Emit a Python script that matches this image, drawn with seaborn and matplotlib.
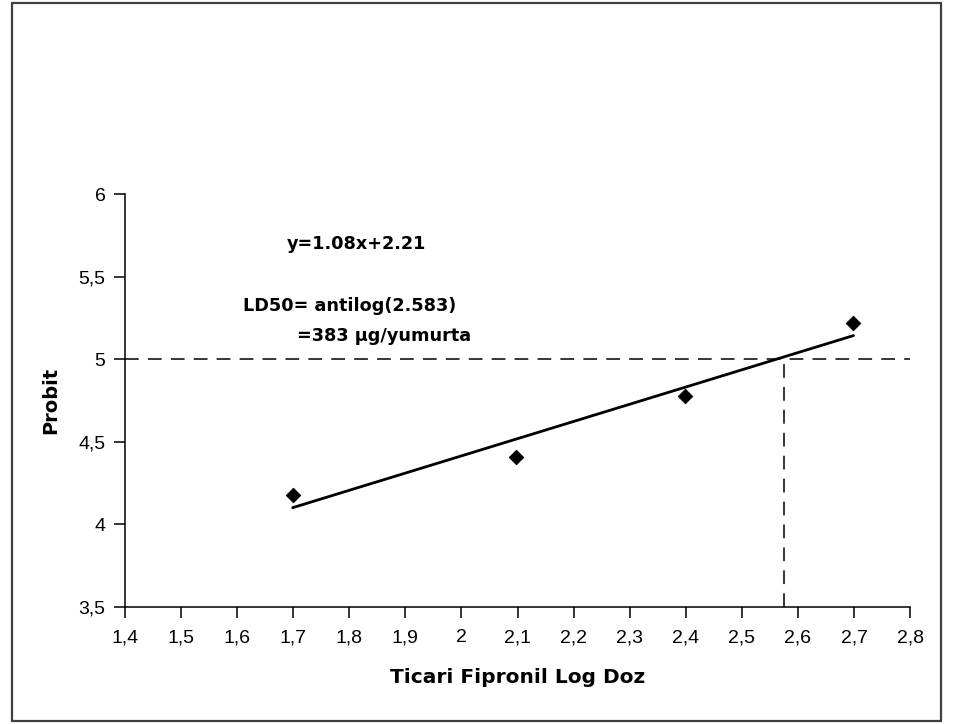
import matplotlib
matplotlib.use("Agg")
import matplotlib.pyplot as plt
import matplotlib.patches as mpatches
import matplotlib.ticker as mticker
import pandas as pd
import seaborn as sns

# data
log_dose = [1.699, 2.097, 2.398, 2.699]
probit = [4.18, 4.41, 4.78, 5.22]
ld50_log = 2.575
probit_50 = 5.0
x_ticks = [1.4, 1.5, 1.6, 1.7, 1.8, 1.9, 2.0, 2.1, 2.2, 2.3, 2.4, 2.5, 2.6, 2.7, 2.8]
y_ticks = [3.5, 4.0, 4.5, 5.0, 5.5, 6.0]

df = pd.DataFrame({"x": log_dose, "y": probit})

sns.set_theme(style="white")
plt.rcParams["font.family"] = ["Liberation Sans", "DejaVu Sans"]
plt.rcParams["text.color"] = "black"
plt.rcParams["axes.labelcolor"] = "black"
BOLD = ["DejaVu Sans"]

fig = plt.figure(figsize=(9.57, 7.24), dpi=100)
ax = fig.add_axes([0.1306, 0.1616, 0.951 - 0.1306, 0.732 - 0.1616])

# reference lines (Probit 5 and LD50)
ax.plot([x_ticks[0], x_ticks[-1]], [probit_50, probit_50], color="black",
        lw=1.1, dashes=(9, 6))
ax.plot([ld50_log, ld50_log], [y_ticks[0], probit_50], color="black",
        lw=1.1, dashes=(9, 6))

sns.regplot(data=df, x="x", y="y", ci=None, scatter=False, ax=ax,
            line_kws={"color": "black", "lw": 2})
sns.scatterplot(data=df, x="x", y="y", marker="D", s=55, color="black",
                edgecolor="black", ax=ax, zorder=5)

ax.set_xlim(x_ticks[0], x_ticks[-1])
ax.set_ylim(y_ticks[0], y_ticks[-1])
ax.set_xticks(x_ticks)
ax.set_yticks(y_ticks)
fmt = mticker.FuncFormatter(lambda v, p: f"{v:g}".replace(".", ","))
ax.xaxis.set_major_formatter(fmt)
ax.yaxis.set_major_formatter(fmt)
ax.tick_params(axis="both", direction="out", length=8, width=1.1,
               labelsize=14, colors="black", bottom=True, left=True)
ax.tick_params(axis="x", pad=8)
ax.tick_params(axis="y", pad=6)

for side in ["top", "right"]:
    ax.spines[side].set_visible(False)
for side in ["left", "bottom"]:
    ax.spines[side].set_color("black")
    ax.spines[side].set_linewidth(1.1)

ax.set_xlabel("Ticari Fipronil Log Doz", fontsize=14.5, fontweight="bold",
              family=BOLD)
ax.set_ylabel("Probit", fontsize=14, fontweight="bold", family=BOLD)
ax.xaxis.set_label_coords(0.5, -0.148)
ax.yaxis.set_label_coords(-0.082, 0.5)

ax.text(1.689, 5.70, "y=1.08x+2.21", fontsize=12.7, fontweight="bold",
        family=BOLD, va="center", ha="left")
ax.text(1.61, 5.32, "LD50= antilog(2.583)", fontsize=12.7, fontweight="bold",
        family=BOLD, va="center", ha="left")
ax.text(1.707, 5.14, "=383 µg/yumurta", fontsize=12.7, fontweight="bold",
        family=BOLD, va="center", ha="left")

# frame around the whole chart
fig.patches.append(mpatches.Rectangle(
    (12 / 957, 1 - 721 / 724), (941 - 12) / 957, (721 - 3) / 724,
    transform=fig.transFigure, fill=False, edgecolor="#404040", lw=1.6))

fig.savefig("out.png", dpi=100)
